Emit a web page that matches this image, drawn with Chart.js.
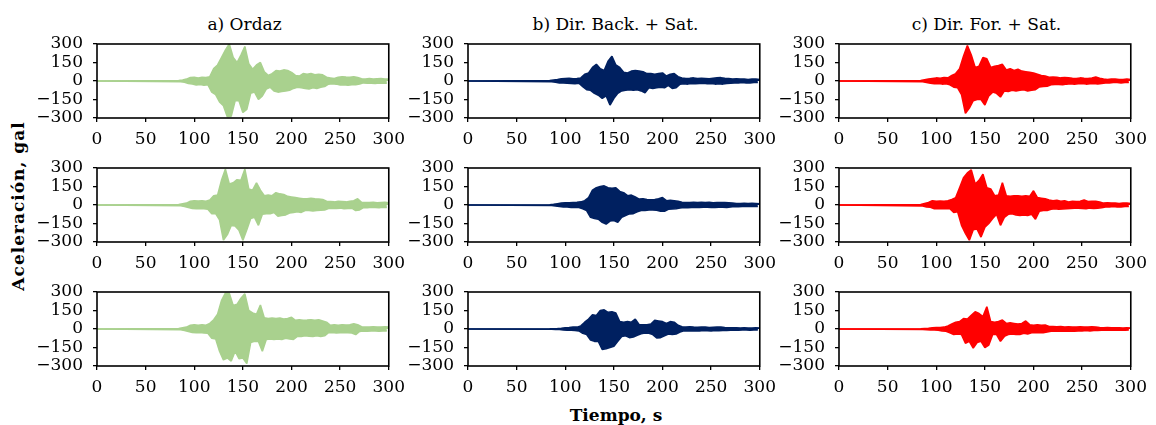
<!DOCTYPE html>
<html>
<head>
  <meta charset="utf-8">
  <title>Acelerogramas sintéticos</title>
  <script src="https://cdn.jsdelivr.net/npm/chart.js"></script>
  <style>
    body {
      margin: 0;
      background: #fff;
      font-family: 'DejaVu Serif', serif;
    }
    #fig {
      position: relative;
      width: 1156px;
      height: 425px;
      overflow: hidden;
      background: #fff;
    }
    #fig canvas {
      position: absolute;
    }
    .titulo {
      position: absolute;
      top: 14px;
      width: 295px;
      line-height: 20px;
      text-align: center;
      font-size: 17px;
      white-space: nowrap;
    }
    #ylab {
      position: absolute;
      left: -132px;
      top: 196px;
      width: 300px;
      line-height: 20px;
      text-align: center;
      font-size: 17px;
      font-weight: bold;
      letter-spacing: 1px;
      transform: rotate(-90deg);
    }
    #xlab {
      position: absolute;
      left: 466px;
      top: 405px;
      width: 300px;
      line-height: 20px;
      text-align: center;
      font-size: 17px;
      font-weight: bold;
    }
  </style>
</head>
<body>
  <div id="fig">
    <div id="ylab">Aceleración, gal</div>
    <div id="xlab">Tiempo, s</div>
  </div>

  <script>
    // muestreo: t = 0 (reposo) y luego de 84 s a 300 s cada 2 s,
    // alternando picos positivos y negativos
    const inicio = 84;
    const paso = 2;
    const tiempo = [0].concat(Array.from({ length: 109 }, (_, i) => inicio + paso * i));

    const ticksX = [0, 50, 100, 150, 200, 250, 300];
    const ticksY = [-300, -150, 0, 150, 300];

    const titulos = ['a) Ordaz', 'b) Dir. Back. + Sat.', 'c) Dir. For. + Sat.'];
    const colores = ['#a9d18e', '#002060', '#ff0000'];

    // aceleraciones (gal), fila 1
    const ordaz1 = [0,
      3, -5, 8, -10, 15, -20, 28, -25, 30, -32,
      25, -28, 30, -35, 28, -30, 35, -90, 100, -110,
      130, -170, 190, -200, 250, -290, 300, -285, 190, -160,
      150, -160, 210, -255, 280, -230, 140, -100, 95, -90,
      130, -150, 150, -120, 75, -65, 45, -50, 60, -80,
      85, -90, 80, -85, 90, -80, 85, -75, 70, -60,
      45, -50, 40, -55, 60, -60, 55, -65, 60, -55,
      50, -60, 55, -50, 50, -45, 30, -25, 25, -22,
      20, -25, 30, -32, 35, -30, 32, -35, 30, -30,
      35, -30, 28, -25, 18, -15, 15, -18, 20, -18,
      15, -20, 18, -15, 20, -18, 15, -18, 15];
    const back1 = [0,
      3, -5, 8, -10, 12, -15, 18, -15, 20, -18,
      22, -20, 18, -22, 20, -18, 25, -45, 55, -70,
      65, -75, 110, -100, 135, -115, 100, -140, 85, -120,
      160, -195, 200, -140, 130, -100, 110, -80, 70, -75,
      65, -70, 80, -75, 85, -70, 80, -80, 75, -95,
      60, -55, 60, -60, 55, -55, 60, -50, 65, -55,
      40, -35, 55, -60, 60, -55, 35, -25, 25, -22,
      20, -25, 22, -20, 25, -22, 20, -20, 22, -18,
      20, -22, 18, -20, 22, -25, 25, -22, 27, -25,
      22, -20, 20, -18, 15, -15, 18, -15, 15, -12,
      15, -15, 12, -15, 15, -12, 15, -12, 12];
    const for1 = [0,
      3, -6, 10, -12, 15, -18, 20, -22, 25, -20,
      22, -25, 28, -22, 25, -30, 45, -50, 60, -55,
      100, -110, 200, -262, 287, -220, 210, -160, 110, -150,
      120, -150, 190, -195, 180, -120, 110, -90, 120, -100,
      125, -130, 135, -80, 90, -85, 100, -75, 85, -80,
      95, -75, 80, -70, 75, -80, 70, -75, 65, -70,
      55, -48, 45, -45, 40, -42, 30, -30, 32, -28,
      30, -28, 25, -30, 28, -25, 25, -22, 22, -25,
      20, -22, 25, -20, 22, -25, 20, -22, 25, -20,
      32, -25, 22, -20, 15, -15, 12, -15, 15, -12,
      15, -12, 12, -15, 12, -12, 15, -12, 12];

    // fila 2
    const ordaz2 = [0,
      3, -6, 10, -12, 15, -20, 30, -28, 35, -30,
      32, -28, 35, -30, 30, -35, 40, -70, 75, -70,
      80, -120, 200, -285, 290, -240, 170, -165, 180, -170,
      205, -205, 200, -285, 290, -200, 130, -110, 120, -100,
      180, -165, 120, -75, 75, -70, 80, -70, 75, -60,
      100, -90, 90, -85, 85, -80, 70, -65, 65, -60,
      60, -55, 55, -60, 50, -45, 50, -45, 55, -48,
      50, -45, 48, -42, 45, -40, 30, -28, 28, -25,
      25, -28, 30, -25, 28, -30, 25, -28, 30, -25,
      35, -45, 50, -40, 22, -20, 20, -22, 20, -18,
      22, -20, 18, -22, 20, -18, 22, -20, 18];
    const back2 = [0,
      2, -4, 5, -8, 10, -12, 15, -15, 18, -15,
      18, -20, 20, -18, 22, -20, 25, -30, 35, -45,
      60, -100, 120, -110, 140, -115, 150, -140, 155, -155,
      140, -130, 135, -125, 140, -140, 110, -100, 100, -85,
      75, -72, 80, -70, 65, -55, 48, -45, 50, -45,
      45, -40, 42, -40, 45, -42, 50, -50, 60, -50,
      35, -35, 38, -32, 35, -30, 30, -25, 22, -20,
      20, -22, 20, -20, 22, -18, 20, -20, 22, -18,
      20, -18, 22, -20, 18, -20, 20, -18, 20, -18,
      20, -20, 18, -15, 15, -12, 12, -14, 12, -12,
      14, -12, 12, -12, 14, -12, 12, -12, 10];
    const for2 = [0,
      3, -8, 12, -15, 20, -18, 35, -30, 30, -28,
      32, -30, 30, -28, 35, -30, 45, -60, 60, -55,
      140, -165, 220, -230, 260, -285, 285, -200, 170, -195,
      200, -260, 250, -180, 140, -150, 130, -110, 75, -75,
      80, -165, 180, -100, 75, -75, 70, -70, 75, -80,
      75, -85, 70, -80, 75, -85, 70, -75, 115, -115,
      60, -50, 55, -45, 50, -45, 40, -35, 35, -30,
      38, -35, 30, -32, 35, -30, 25, -28, 30, -25,
      28, -25, 30, -28, 40, -30, 28, -25, 30, -28,
      30, -25, 25, -22, 15, -15, 18, -15, 15, -12,
      15, -15, 12, -15, 15, -12, 15, -12, 12];

    // fila 3
    const ordaz3 = [0,
      3, -6, 10, -12, 15, -20, 30, -28, 35, -30,
      30, -28, 35, -32, 30, -35, 45, -75, 75, -80,
      120, -180, 230, -250, 290, -235, 290, -260, 190, -180,
      200, -240, 250, -235, 285, -280, 150, -110, 130, -100,
      120, -100, 195, -180, 90, -85, 85, -80, 88, -85,
      85, -80, 88, -85, 80, -75, 85, -80, 95, -85,
      70, -60, 75, -60, 70, -55, 72, -58, 75, -60,
      70, -55, 75, -60, 65, -55, 55, -30, 30, -28,
      35, -32, 30, -30, 35, -28, 32, -30, 35, -32,
      43, -45, 35, -20, 18, -15, 15, -18, 15, -15,
      18, -15, 15, -18, 15, -15, 18, -15, 15];
    const back3 = [0,
      1, -2, 2, -3, 3, -4, 6, -8, 10, -10,
      12, -10, 15, -12, 15, -15, 25, -35, 55, -45,
      80, -90, 115, -100, 110, -100, 150, -165, 155, -160,
      135, -150, 140, -140, 130, -100, 60, -60, 55, -55,
      60, -70, 55, -65, 80, -50, 35, -38, 35, -32,
      35, -35, 40, -45, 70, -72, 65, -70, 60, -55,
      45, -40, 60, -45, 55, -40, 30, -25, 18, -15,
      15, -15, 18, -14, 15, -15, 14, -15, 15, -12,
      15, -14, 12, -15, 14, -12, 15, -14, 15, -12,
      12, -12, 10, -10, 10, -8, 10, -10, 8, -8,
      10, -8, 8, -10, 8, -8, 10, -8, 8];
    const for3 = [0,
      1, -3, 4, -5, 6, -8, 10, -8, 12, -10,
      12, -15, 15, -18, 25, -30, 40, -45, 55, -40,
      60, -45, 85, -115, 80, -100, 110, -155, 140, -110,
      125, -100, 100, -150, 180, -130, 60, -45, 55, -45,
      60, -100, 72, -60, 45, -45, 50, -40, 45, -45,
      40, -45, 45, -35, 65, -40, 35, -30, 30, -28,
      35, -30, 30, -30, 32, -25, 20, -18, 20, -18,
      18, -15, 20, -18, 15, -18, 18, -15, 15, -18,
      15, -15, 18, -15, 15, -12, 15, -15, 18, -12,
      15, -12, 12, -10, 10, -10, 12, -10, 10, -10,
      10, -8, 10, -10, 8, -10, 10, -8, 8];

    const filas = [
      [ordaz1, back1, for1],
      [ordaz2, back2, for2],
      [ordaz3, back3, for3]
    ];

    // posición de cada área de trazado en la figura
    const colX = [97, 468, 839];
    const filaY = [44, 168, 292];
    const anchoArea = 295, altoArea = 74;
    // margenSup cubre medio rótulo del eje y más su padding
    const ejeY = 70, ejeX = 32, margenSup = 22, margenDer = 20;

    Chart.defaults.font.family = "'DejaVu Serif', serif";
    Chart.defaults.font.size = 17;
    Chart.defaults.color = '#000';

    // recuadro negro alrededor de cada panel
    const marco = {
      id: 'marco',
      afterDraw(chart) {
        const { ctx, chartArea: a } = chart;
        ctx.save();
        ctx.strokeStyle = '#000';
        ctx.lineWidth = 1.6;
        ctx.strokeRect(a.left, a.top, a.right - a.left, a.bottom - a.top);
        ctx.restore();
      }
    };

    const fig = document.getElementById('fig');

    titulos.forEach((txt, c) => {
      const d = document.createElement('div');
      d.className = 'titulo';
      d.style.left = colX[c] + 'px';
      d.textContent = txt;
      fig.appendChild(d);
    });

    const fmtY = v => (v < 0 ? '\u2212' + Math.abs(v) : String(v));

    // la traza se dibuja como dos envolventes (picos + y picos -) rellenas hasta el cero
    function envolventes(serie, color) {
      const pts = tiempo.map((t, i) => ({ x: t, y: serie[i] }));
      const base = {
        borderColor: color,
        backgroundColor: color,
        borderWidth: 1.6,
        borderJoinStyle: 'bevel',
        pointRadius: 0,
        tension: 0,
        fill: 'origin'
      };
      return [
        Object.assign({ data: pts.filter(p => p.y >= 0) }, base),
        Object.assign({ data: pts.filter(p => p.y <= 0) }, base)
      ];
    }

    filas.forEach((fila, r) => {
      fila.forEach((serie, c) => {
        const cv = document.createElement('canvas');
        const w = ejeY + anchoArea + margenDer;
        const h = margenSup + altoArea + ejeX;
        cv.width = w;
        cv.height = h;
        cv.style.left = (colX[c] - ejeY) + 'px';
        cv.style.top = (filaY[r] - margenSup) + 'px';
        fig.appendChild(cv);

        new Chart(cv.getContext('2d'), {
          type: 'line',
          data: { datasets: envolventes(serie, colores[c]) },
          options: {
            responsive: false,
            animation: false,
            events: [],
            layout: { padding: { top: margenSup, right: margenDer, left: 0, bottom: 0 } },
            plugins: { legend: { display: false }, tooltip: { enabled: false } },
            scales: {
              x: {
                type: 'linear',
                min: 0,
                max: 300,
                afterBuildTicks: s => { s.ticks = ticksX.map(v => ({ value: v })); },
                afterFit: s => { s.height = ejeX; },
                ticks: { padding: 7, maxRotation: 0, autoSkip: false },
                grid: { drawOnChartArea: false, tickLength: 4, color: '#000', lineWidth: 1.3 },
                border: { display: false }
              },
              y: {
                min: -300,
                max: 300,
                afterBuildTicks: s => { s.ticks = ticksY.map(v => ({ value: v })); },
                afterFit: s => { s.width = ejeY; },
                ticks: { padding: 10, callback: fmtY, autoSkip: false },
                grid: { drawOnChartArea: false, tickLength: 4, color: '#000', lineWidth: 1.3 },
                border: { display: false }
              }
            }
          },
          plugins: [marco]
        });
      });
    });
  </script>
</body>
</html>
